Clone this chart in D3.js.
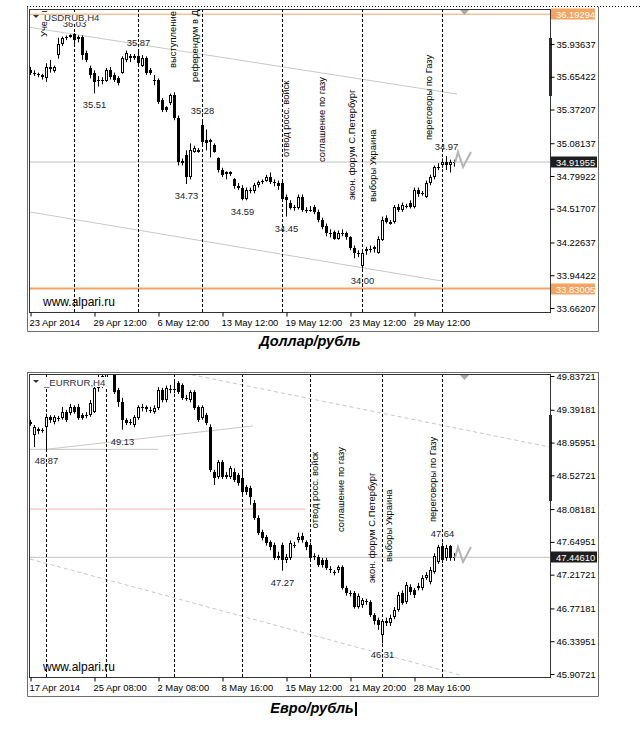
<!DOCTYPE html>
<html>
<head>
<meta charset="utf-8">
<title>USDRUB / EURRUR H4</title>
<script src="https://cdnjs.cloudflare.com/ajax/libs/d3/7.8.5/d3.min.js"></script>
<style>
  body { margin: 0; background: #fff; }
  svg text { font-family: "Liberation Sans", Arial, sans-serif; }
  .axis text { font-size: 9.4px; fill: #000; }
  .axis line { stroke: #000; }
  .axis path { display: none; }
</style>
</head>
<body>
<svg id="chart" width="642" height="739"></svg>
<script>
// ---- USDRUB, H4 : [open, high, low, close] per bar
const usdOHLC = [
  [35.71,35.74,35.67,35.69],[35.69,35.71,35.66,35.68],[35.68,35.69,35.65,35.67],[35.67,35.68,35.63,35.65],
  [35.64,35.77,35.61,35.74],[35.72,35.80,35.69,35.74],[35.70,35.75,35.69,35.74],[35.84,35.99,35.81,35.94],
  [35.94,36.00,35.92,35.99],[35.99,36.01,35.97,36.00],[36.00,36.02,35.99,36.01],[36.02,36.03,35.93,35.97],
  [36.00,36.01,35.95,35.98],[36.00,36.01,35.80,35.84],[35.86,35.88,35.78,35.80],[35.73,35.75,35.64,35.67],
  [35.69,35.71,35.51,35.61],[35.62,35.66,35.57,35.63],[35.63,35.65,35.59,35.62],[35.62,35.73,35.61,35.71],
  [35.71,35.74,35.63,35.65],[35.67,35.69,35.61,35.63],[35.64,35.66,35.58,35.60],[35.69,35.83,35.68,35.82],
  [35.80,35.88,35.78,35.86],[35.83,35.85,35.78,35.82],[35.82,35.85,35.80,35.83],[35.83,35.87,35.75,35.77],
  [35.75,35.84,35.74,35.82],[35.82,35.83,35.67,35.69],[35.71,35.73,35.67,35.69],[35.63,35.67,35.58,35.62],
  [35.63,35.64,35.42,35.44],[35.45,35.47,35.35,35.37],[35.39,35.40,35.35,35.37],[35.43,35.51,35.41,35.50],
  [35.50,35.52,35.28,35.30],[35.30,35.32,34.89,34.92],[34.93,34.95,34.89,34.91],[34.98,35.02,34.73,34.79],
  [34.79,35.08,34.77,35.02],[35.01,35.06,35.00,35.04],[35.02,35.04,35.00,35.01],[35.24,35.28,35.07,35.09],
  [35.11,35.20,35.02,35.08],[35.11,35.12,34.96,35.09],[35.07,35.08,35.00,35.01],[34.95,34.96,34.83,34.85],
  [34.85,34.87,34.79,34.81],[34.83,34.84,34.77,34.82],[34.83,34.84,34.80,34.82],[34.77,34.78,34.69,34.71],
  [34.71,34.74,34.68,34.70],[34.70,34.72,34.59,34.60],[34.60,34.70,34.59,34.68],[34.68,34.70,34.65,34.67],
  [34.67,34.74,34.65,34.72],[34.72,34.76,34.70,34.75],[34.75,34.77,34.73,34.76],[34.76,34.81,34.75,34.79],
  [34.79,34.83,34.73,34.75],[34.75,34.77,34.71,34.74],[34.74,34.76,34.68,34.71],[34.74,34.76,34.58,34.60],
  [34.62,34.64,34.45,34.59],[34.57,34.59,34.51,34.52],[34.53,34.55,34.50,34.52],[34.52,34.64,34.51,34.62],
  [34.62,34.64,34.49,34.51],[34.51,34.53,34.48,34.50],[34.50,34.54,34.49,34.51],[34.53,34.55,34.47,34.49],
  [34.49,34.51,34.40,34.42],[34.42,34.44,34.34,34.36],[34.37,34.39,34.28,34.31],[34.31,34.34,34.27,34.30],
  [34.32,34.33,34.25,34.26],[34.26,34.33,34.25,34.31],[34.31,34.34,34.28,34.30],[34.31,34.32,34.25,34.27],
  [34.27,34.28,34.16,34.18],[34.18,34.20,34.09,34.14],[34.14,34.16,34.10,34.13],[34.02,34.15,34.00,34.14],
  [34.15,34.19,34.12,34.17],[34.16,34.20,34.14,34.17],[34.17,34.20,34.14,34.19],[34.14,34.28,34.13,34.26],
  [34.25,34.45,34.24,34.42],[34.44,34.46,34.39,34.40],[34.40,34.42,34.38,34.39],[34.40,34.55,34.39,34.53],
  [34.53,34.56,34.49,34.51],[34.51,34.57,34.49,34.55],[34.53,34.56,34.52,34.54],[34.57,34.59,34.52,34.53],
  [34.53,34.70,34.52,34.68],[34.68,34.70,34.62,34.64],[34.65,34.67,34.63,34.65],[34.62,34.76,34.61,34.74],
  [34.74,34.81,34.72,34.79],[34.79,34.89,34.77,34.88],[34.87,34.91,34.85,34.88],[34.89,34.95,34.87,34.92],
  [34.92,34.97,34.85,34.89],[34.89,34.94,34.83,34.92],[34.91,34.94,34.88,34.92]
];
const usdPriceTicks = [35.93637, 35.65422, 35.37207, 35.08137, 34.79922, 34.51707, 34.22637, 33.94422, 33.66207];
const usdTimeLabels = ["23 Apr 2014", "29 Apr 12:00", "6 May 12:00", "13 May 12:00", "19 May 12:00", "23 May 12:00", "29 May 12:00"];
const usdTimeBars = [0, 16, 32, 48, 64, 80, 96];
const usdEventBars = [11, 27, 43, 63, 83, 103];
const usdExtremeBars = [11, 16, 27, 39, 43, 53, 64, 83, 104];
const usdExtremeSides = ["h", "l", "h", "l", "h", "l", "l", "l", "h"];
const usdNotes = ["Учения", "выступление", "референдум в Донецке", "отвод росс. войск", "соглашение по газу", "экон. форум С.Петербург", "выборы Украина", "переговоры по Газу"];
const usdNoteBars = [4.25, 36.5, 42, 64.75, 73.75, 81.25, 86.5, 100.5];
const usdNotePrices = [35.996, 35.73, 35.609, 34.963, 34.92, 34.593, 34.575, 35.109];
const usdChannelUpper = [[-0.5, 36.082], [106.75, 35.505]];
const usdChannelLower = [[0, 34.489], [103, 33.894]];
const usdOrangeLevels = [36.19294, 33.83005];
const usdBid = 34.91955;

// ---- EURRUR, H4
const eurOHLC = [
  [49.23,49.26,49.18,49.20],[49.06,49.19,48.90,49.16],[49.11,49.16,49.07,49.14],[49.13,49.15,49.09,49.12],
  [49.16,49.34,48.87,49.30],[49.30,49.32,49.22,49.26],[49.23,49.32,49.20,49.30],[49.28,49.31,49.24,49.27],
  [49.28,49.43,49.26,49.36],[49.36,49.39,49.23,49.26],[49.35,49.47,49.32,49.43],[49.43,49.45,49.34,49.36],
  [49.43,49.47,49.26,49.28],[49.32,49.35,49.26,49.28],[49.32,49.36,49.28,49.31],[49.32,49.52,49.30,49.48],
  [49.36,49.72,49.35,49.68],[49.68,49.86,49.63,49.81],[49.70,49.89,49.68,49.84],[49.81,50.11,49.73,50.02],
  [50.02,50.10,49.89,49.94],[49.92,49.97,49.60,49.63],[49.65,49.68,49.43,49.49],[49.49,49.55,49.13,49.26],
  [49.26,49.28,49.19,49.22],[49.23,49.27,49.19,49.22],[49.19,49.32,49.16,49.30],[49.28,49.45,49.26,49.43],
  [49.43,49.47,49.37,49.42],[49.43,49.45,49.36,49.40],[49.39,49.43,49.35,49.38],[49.36,49.45,49.34,49.41],
  [49.41,49.69,49.39,49.65],[49.65,49.68,49.49,49.52],[49.52,49.71,49.49,49.68],[49.67,49.72,49.61,49.65],
  [49.65,49.78,49.61,49.66],[49.75,49.77,49.60,49.63],[49.72,49.74,49.52,49.55],[49.55,49.59,49.51,49.54],
  [49.52,49.65,49.49,49.63],[49.63,49.65,49.39,49.41],[49.43,49.45,49.23,49.26],[49.28,49.45,49.26,49.43],
  [49.32,49.35,49.19,49.22],[49.16,49.20,48.57,48.60],[48.57,48.60,48.40,48.49],[48.50,48.73,48.48,48.70],
  [48.70,48.73,48.48,48.50],[48.53,48.57,48.48,48.51],[48.50,48.65,48.48,48.62],[48.57,48.62,48.44,48.47],
  [48.53,48.56,48.39,48.43],[48.49,48.60,48.28,48.31],[48.37,48.40,48.27,48.31],[48.36,48.39,48.14,48.24],
  [48.16,48.20,47.94,47.96],[47.96,48.00,47.74,47.77],[47.78,47.81,47.67,47.70],[47.71,47.74,47.60,47.64],
  [47.65,47.67,47.54,47.58],[47.61,47.64,47.41,47.44],[47.46,47.52,47.41,47.44],[47.61,47.64,47.27,47.41],
  [47.41,47.49,47.37,47.45],[47.44,47.67,47.41,47.64],[47.61,47.65,47.57,47.60],[47.67,47.77,47.64,47.71],
  [47.73,47.77,47.64,47.67],[47.65,47.67,47.54,47.58],[47.61,47.64,47.41,47.44],[47.46,47.50,47.41,47.45],
  [47.45,47.48,47.32,47.34],[47.41,47.44,47.31,47.34],[47.41,47.44,47.28,47.31],[47.29,47.33,47.24,47.28],
  [47.25,47.28,47.21,47.24],[47.28,47.34,47.24,47.32],[47.32,47.34,47.02,47.04],[47.04,47.07,46.94,46.98],
  [46.98,47.01,46.93,46.97],[46.98,47.00,46.77,46.79],[46.79,46.97,46.77,46.94],[46.82,46.91,46.78,46.88],
  [46.87,46.90,46.82,46.86],[46.86,46.88,46.66,46.69],[46.69,46.71,46.56,46.60],[46.62,46.65,46.49,46.56],
  [46.42,46.62,46.31,46.60],[46.58,46.65,46.54,46.61],[46.58,46.69,46.54,46.65],[46.66,46.79,46.63,46.75],
  [46.75,46.99,46.73,46.95],[46.98,47.01,46.82,46.84],[46.86,47.12,46.83,47.08],[47.05,47.09,46.95,46.99],
  [47.01,47.04,46.91,46.95],[47.04,47.11,47.01,47.07],[47.04,47.21,47.01,47.17],[47.17,47.25,47.15,47.21],
  [47.12,47.32,47.09,47.28],[47.25,47.50,47.23,47.46],[47.38,47.61,47.36,47.58],[47.60,47.64,47.37,47.41],
  [47.44,47.61,47.40,47.57],[47.59,47.61,47.40,47.44],[47.45,47.50,47.40,47.45]
];
const eurPriceTicks = [49.83721, 49.39181, 48.95951, 48.52721, 48.08181, 47.64951, 47.21721, 46.77181, 46.33951, 45.90721];
const eurTimeLabels = ["17 Apr 2014", "25 Apr 08:00", "2 May 08:00", "8 May 16:00", "15 May 12:00", "21 May 20:00", "28 May 16:00"];
const eurTimeBars = [0, 16, 32, 48, 64, 80, 96];
const eurEventBars = [4, 19, 36, 53, 70, 88, 103];
const eurExtremeBars = [4, 23, 36, 63, 88, 103];
const eurExtremeSides = ["l", "l", "h", "l", "l", "h"];
const eurNotes = ["отвод росс. войск", "соглашение по газу", "экон. форум С.Петербург", "выборы Украина", "переговоры по Газу"];
const eurNoteBars = [72, 78.5, 86.25, 90.5, 101.5];
const eurNotePrices = [47.83, 47.78, 47.108, 47.384, 47.912];
const eurChannelUpper = [[37, 49.89], [130, 48.90]];
const eurChannelLower = [[0, 47.424], [107.5, 45.894]];
const eurSupport = [[4, 48.87], [55.75, 49.178]];
const eurLowLevel = [[-0.5, 48.87], [32, 48.87]];
const eurPinkLevel = [[-0.5, 48.083], [68.75, 48.083]];
const eurBid = 47.44610;

const svg = d3.select("#chart");
const ORANGE = "#f4a460";

function drawPanel(cfg) {
  const g = svg.append("g");
  const [pl, pt, pr, pb] = cfg.plot;
  const x = d3.scaleLinear().domain([0, 130]).range([30, 550]);
  const y = d3.scaleLinear().domain(cfg.priceDomain).range(cfg.priceRange);

  // outer window frame
  const [fl, ft, fr, fb] = cfg.frame;
  g.append("path")
    .attr("d", `M${fl + 0.5},${ft}V${fb + 0.5}H${fr + 0.5}V${ft}` + (cfg.frameTop ? `M${fl},${ft + 0.5}H${fr}` : ""))
    .attr("fill", "none").attr("stroke", "#6d6d6d");

  const clipId = "clip" + cfg.id;
  g.append("clipPath").attr("id", clipId)
    .append("rect").attr("x", pl).attr("y", pt).attr("width", pr - pl).attr("height", pb - pt);
  const plot = g.append("g").attr("clip-path", `url(#${clipId})`);

  const line = d3.line().x(d => x(d[0])).y(d => y(d[1]));

  // horizontal levels
  cfg.levels.forEach(lv => {
    plot.append("path").attr("d", line(lv.pts))
      .attr("stroke", lv.color).attr("stroke-width", lv.width).attr("fill", "none");
  });

  // trend / channel lines
  cfg.trends.forEach(t => {
    plot.append("path").attr("d", line(t.pts))
      .attr("stroke", "#c8c8c8").attr("stroke-width", 1).attr("fill", "none")
      .attr("stroke-dasharray", t.dashed ? "4,3" : null);
  });

  // event lines
  plot.selectAll(".ev").data(cfg.eventBars).enter().append("line")
    .attr("x1", d => x(d) + 0.5).attr("x2", d => x(d) + 0.5)
    .attr("y1", pt).attr("y2", pb)
    .attr("stroke", "#000").attr("stroke-dasharray", "3,2");

  // rotated notes
  cfg.notes.forEach((t, i) => {
    plot.append("text")
      .attr("transform", `translate(${x(cfg.noteBars[i])},${y(cfg.notePrices[i])}) rotate(-90)`)
      .attr("font-size", "9.4px").attr("fill", "#000")
      .text(t);
  });

  // candles
  const cg = plot.append("g");
  cfg.ohlc.forEach((d, i) => {
    const [o, h, l, c] = d;
    const cx = x(i);
    cg.append("rect").attr("x", cx).attr("y", y(h))
      .attr("width", 1).attr("height", Math.max(1, y(l) - y(h))).attr("fill", "#000");
    const ty = Math.round(y(Math.max(o, c)));
    const by = Math.round(y(Math.min(o, c)));
    if (c > o && by - ty >= 2) {
      cg.append("rect").attr("x", cx - 0.5).attr("y", ty + 0.5)
        .attr("width", 2).attr("height", by - ty - 1)
        .attr("fill", "#fff").attr("stroke", "#000");
    } else {
      cg.append("rect").attr("x", cx - 1).attr("y", ty)
        .attr("width", 3).attr("height", Math.max(1, by - ty)).attr("fill", "#000");
    }
  });

  // extreme labels
  cfg.extremeBars.forEach((b, i) => {
    const hi = cfg.extremeSides[i] === "h";
    const p = hi ? cfg.ohlc[b][1] : cfg.ohlc[b][2];
    plot.append("text")
      .attr("x", x(b) + 0.5).attr("y", hi ? y(p) - 6 : y(p) + 15)
      .attr("text-anchor", "middle").attr("font-size", "9.4px").attr("fill", "#1c1c2c")
      .text(p.toFixed(2));
  });

  // "check" shape after last bar
  const n = cfg.ohlc.length;
  const lx = x(n - 1), ly = y(cfg.ohlc[n - 1][3]);
  plot.append("path")
    .attr("d", `M${lx + 1},${ly + 1}L${lx + 4},${ly - 10}L${lx + 9},${ly + 5}L${lx + 17},${ly - 10}`)
    .attr("fill", "none").attr("stroke", "#b4b4b4").attr("stroke-width", 2);

  // symbol label with background
  g.append("rect").attr("x", pl + 2).attr("y", pt + 3).attr("width", 80).attr("height", 10).attr("fill", "#fff");
  cfg.levels.filter(lv => y(lv.pts[0][1]) > pt + 3 && y(lv.pts[0][1]) < pt + 13).forEach(lv => {
    g.append("line").attr("x1", pl + 2).attr("x2", pl + 82)
      .attr("y1", y(lv.pts[0][1])).attr("y2", y(lv.pts[0][1]))
      .attr("stroke", lv.color).attr("stroke-width", lv.width);
  });
  g.append("path").attr("d", `M${pl + 4},${pt + 6}h6l-3,3z`).attr("fill", "#333");
  g.append("text").attr("x", pl + 15).attr("y", pt + 12)
    .attr("font-size", "9.6px").attr("fill", "#303040").text(cfg.symbol);

  // watermark
  g.append("text").attr("x", pl + 14).attr("y", pb - 6)
    .attr("font-size", "12px").attr("fill", "#000").text("www.alpari.ru");

  // shift marker
  g.append("path").attr("d", `M${x(n + 0.5)},${pt + 1}h9l-4.5,5z`).attr("fill", "#a8a8a8");

  // plot border
  g.append("rect").attr("x", pl + 0.5).attr("y", pt + 0.5)
    .attr("width", pr - pl).attr("height", pb - pt)
    .attr("fill", "none").attr("stroke", "#333");

  // side bar
  g.append("rect").attr("x", pr - 1).attr("y", cfg.sideBar[0])
    .attr("width", 3).attr("height", cfg.sideBar[1] - cfg.sideBar[0]).attr("fill", "#2a2a2a");

  // price axis
  g.append("g").attr("class", "axis").attr("transform", `translate(${pr + 0.5},0)`)
    .call(d3.axisRight(y).tickValues(cfg.priceTicks).tickSize(4).tickPadding(2).tickFormat(d => d.toFixed(5)));

  // time axis
  const xa = g.append("g").attr("class", "axis").attr("transform", `translate(0,${pb + 0.5})`)
    .call(d3.axisBottom(x).tickValues(cfg.timeBars).tickSize(4).tickPadding(3)
      .tickFormat((d, i) => cfg.timeLabels[i]));
  xa.selectAll(".tick line").attr("transform", "translate(0.5,0)");
  xa.selectAll("text").attr("text-anchor", "start").attr("x", -1);

  // highlighted price boxes
  cfg.boxes.forEach(bx => {
    const yy = Math.round(y(bx.price));
    g.append("rect").attr("x", pr + 1).attr("y", yy - 5.5)
      .attr("width", bx.w).attr("height", 11).attr("fill", bx.bg);
    g.append("text").attr("x", pr + 6).attr("y", yy + 3.5)
      .attr("font-size", "9.4px").attr("fill", "#fff").text(bx.price.toFixed(5));
  });

  // caption
  svg.append("text").attr("x", cfg.caption[1]).attr("y", cfg.caption[2])
    .attr("text-anchor", "middle").attr("font-size", "14.5px")
    .attr("font-weight", "bold").attr("font-style", "italic").attr("fill", "#000")
    .text(cfg.caption[0]);
}

// top dotted line
svg.append("line").attr("x1", 27).attr("x2", 642).attr("y1", 6.5).attr("y2", 6.5)
  .attr("stroke", "#000").attr("stroke-dasharray", "1,2");

drawPanel({
  id: "usd", symbol: "USDRUB,H4",
  frame: [27, 7, 598, 331], frameTop: false,
  plot: [29, 9, 550, 312],
  priceDomain: [33.66207, 35.93637], priceRange: [308, 44],
  ohlc: usdOHLC, priceTicks: usdPriceTicks,
  timeBars: usdTimeBars, timeLabels: usdTimeLabels,
  eventBars: usdEventBars,
  extremeBars: usdExtremeBars, extremeSides: usdExtremeSides,
  notes: usdNotes, noteBars: usdNoteBars, notePrices: usdNotePrices,
  levels: [
    { pts: [[-1, usdBid], [131, usdBid]], color: "#c0c0c0", width: 1 },
    { pts: [[-1, usdOrangeLevels[0]], [131, usdOrangeLevels[0]]], color: ORANGE, width: 1 },
    { pts: [[-1, usdOrangeLevels[1]], [131, usdOrangeLevels[1]]], color: ORANGE, width: 2 }
  ],
  trends: [{ pts: usdChannelUpper }, { pts: usdChannelLower }],
  boxes: [
    { price: usdOrangeLevels[0], bg: ORANGE, w: 44 },
    { price: usdOrangeLevels[1], bg: ORANGE, w: 44 },
    { price: usdBid, bg: "#1e1e1e", w: 46 }
  ],
  sideBar: [38, 96],
  caption: ["Доллар/рубль", 310, 346]
});

drawPanel({
  id: "eur", symbol: "_EURRUR,H4",
  frame: [27, 372, 598, 696], frameTop: true,
  plot: [29, 374, 550, 677],
  priceDomain: [45.90721, 49.83721], priceRange: [674, 376],
  ohlc: eurOHLC, priceTicks: eurPriceTicks,
  timeBars: eurTimeBars, timeLabels: eurTimeLabels,
  eventBars: eurEventBars,
  extremeBars: eurExtremeBars, extremeSides: eurExtremeSides,
  notes: eurNotes, noteBars: eurNoteBars, notePrices: eurNotePrices,
  levels: [
    { pts: [[-1, eurBid], [131, eurBid]], color: "#c0c0c0", width: 1 },
    { pts: eurLowLevel, color: "#c4c4c4", width: 1 },
    { pts: eurPinkLevel, color: "#f9d9d3", width: 2 }
  ],
  trends: [{ pts: eurChannelUpper, dashed: true }, { pts: eurChannelLower, dashed: true }, { pts: eurSupport }],
  boxes: [{ price: eurBid, bg: "#1e1e1e", w: 46 }],
  sideBar: [415, 501],
  caption: ["Евро/рубль", 312, 713]
});

// text cursor after the lower caption
svg.append("rect").attr("x", 355).attr("y", 702).attr("width", 2).attr("height", 14).attr("fill", "#000");
</script>
</body>
</html>
